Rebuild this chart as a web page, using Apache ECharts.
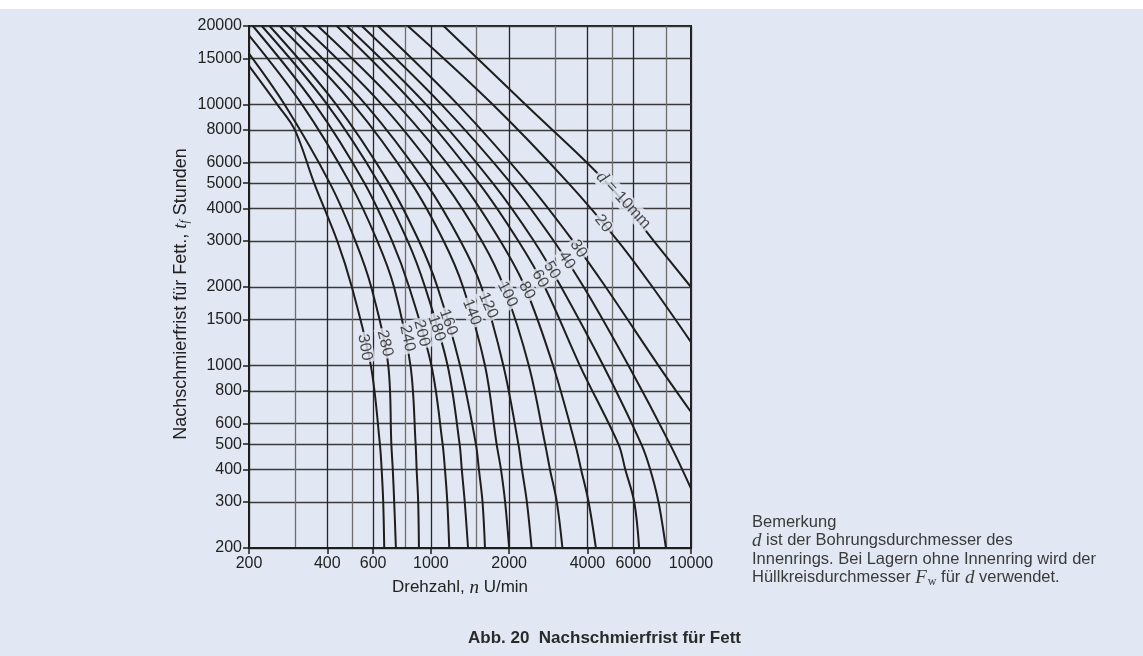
<!DOCTYPE html>
<html>
<head>
<meta charset="utf-8">
<script src="https://cdn.jsdelivr.net/npm/echarts@6/dist/echarts.min.js"></script>
<style>
  html, body { margin: 0; padding: 0; background: #ffffff; }
  #chart { width: 1143px; height: 656px; }
</style>
</head>
<body>
<div id="chart"></div>
<script>
// axis ticks / gridlines
const xGrid = [200, 300, 400, 500, 600, 800, 1000, 1500, 2000, 3000, 4000, 5000, 6000, 8000, 10000]
const xLabels = [200, 400, 600, 1000, 2000, 4000, 6000, 10000]
const yGrid = [200, 300, 400, 500, 600, 800, 1000, 1500, 2000, 3000, 4000, 5000, 6000, 8000, 10000, 15000, 20000]

// curves: [speed n (U/min), grease life t (h)]
const d10 = [[1120, 20000], [2310, 10000], [4760, 5000], [7200, 3000], [10000, 2000]]
const d20 = [[816, 20000], [1730, 10000], [3380, 5000], [5240, 3000], [7110, 2000], [10000, 1230]]
const d30 = [[626, 20000], [1270, 10000], [2360, 5000], [3520, 3000], [4700, 2000], [7500, 1000], [10000, 664]]
const d40 = [[543, 20000], [1100, 10000], [2030, 5000], [2970, 3000], [3870, 2000], [5750, 1000], [8300, 500], [10000, 338]]
const d50 = [[475, 20000], [960, 10000], [1730, 5000], [2490, 3000], [3170, 2000], [4600, 1000], [6440, 500], [6970, 400], [7500, 300], [8010, 200]]
const d60 = [[435, 20000], [865, 10000], [1530, 5000], [2170, 3000], [2740, 2000], [3740, 1000], [5260, 500], [5590, 400], [6050, 300], [6320, 200]]
const d80 = [[368, 20000], [744, 10000], [1320, 5000], [1850, 3000], [2300, 2000], [2950, 1000], [3590, 500], [3780, 400], [4040, 300], [4310, 200]]
const d100 = [[322, 20000], [648, 10000], [1130, 5000], [1570, 3000], [1910, 2000], [2380, 1000], [2750, 500], [2870, 400], [3050, 300], [3205, 200]]
const d120 = [[287, 20000], [562, 10000], [958, 5000], [1300, 3000], [1565, 2000], [1900, 1000], [2170, 500], [2240, 400], [2340, 300], [2440, 200]]
const d140 = [[263, 20000], [504, 10000], [841, 5000], [1120, 3000], [1330, 2000], [1615, 1000], [1790, 500], [1860, 400], [1930, 300], [2000, 200]]
const d160 = [[240, 20000], [433, 10000], [690, 5000], [900, 3000], [1060, 2000], [1295, 1000], [1490, 500], [1530, 400], [1580, 300], [1615, 200]]
const d180 = [[224, 20000], [400, 10000], [631, 5000], [815, 3000], [950, 2000], [1160, 1000], [1290, 500], [1315, 400], [1350, 300], [1390, 200]]
const d200 = [[207, 20000], [359, 10000], [556, 5000], [710, 3000], [825, 2000], [1005, 1000], [1110, 500], [1133, 400], [1157, 300], [1177, 200]]
const d240 = [[200, 18430], [320, 10000], [489, 5000], [623, 3000], [722, 2000], [835, 1000], [874, 500], [882, 400], [894, 300], [900, 200]]
const d280 = [[200, 15680], [274, 10000], [409, 5000], [513, 3000], [590, 2000], [686, 1000], [705, 500], [714, 400], [723, 300], [734, 200]]
const d300 = [[200, 14060], [257, 10000], [300, 8000], [356, 5000], [437, 3000], [497, 2000], [588, 1000], [637, 500], [647, 400], [656, 300], [662, 200]]

const curves = [d10, d20, d30, d40, d50, d60, d80, d100, d120, d140, d160, d180, d200, d240, d280, d300]
const labelText = ['{i|d} = 10mm', '20', '30', '40', '50', '60', '80', '100', '120', '140', '160', '180', '200', '240', '280', '300']
// where each curve label sits, [n, t]
const labelAt = [[5500, 4300], [4600, 3500], [3690, 2800], [3330, 2530], [2920, 2320], [2630, 2150], [2340, 1940], [1970, 1875],
  [1660, 1700], [1436, 1600], [1167, 1465], [1053, 1390], [922, 1330], [813, 1272], [666, 1217], [558, 1175]]
const labelRot = [-47, -52, -57, -57, -58, -60, -62, -63, -66, -68, -70, -72, -76, -78, -76, -80]

const panel = '#e1e7f3'
const ink = '#1e1e1e'
const font = "'Liberation Sans', Arial, sans-serif"
const serif = "'Liberation Serif', 'DejaVu Serif', serif"

const chart = echarts.init(document.getElementById('chart'))

const series = curves.map((pts, i) => ({
  type: 'line',
  xAxisIndex: 1,
  data: pts,
  showSymbol: false,
  smooth: 0.35,
  silent: true,
  lineStyle: { color: ink, width: 2 },
  z: 3,
}))

series.push({
  type: 'scatter',
  xAxisIndex: 1,
  symbolSize: 0,
  silent: true,
  z: 5,
  data: labelAt.map((p, i) => ({
    value: p,
    label: { formatter: labelText[i], rotate: labelRot[i] },
  })),
  label: {
    show: true,
    position: 'inside',
    color: '#222',
    fontFamily: font,
    fontSize: 16,
    backgroundColor: panel,
    padding: [0, 2],
    rich: {
      i: { fontFamily: serif, fontStyle: 'italic', fontSize: 18, color: '#222', backgroundColor: panel },
    },
  },
})

const plain = (v) => String(Math.round(v))

const option = {
  animation: false,
  backgroundColor: '#ffffff',
  graphic: [
    { type: 'rect', z: -10, silent: true, shape: { x: 0, y: 9, width: 1143, height: 647 }, style: { fill: panel } },
    {
      type: 'text', left: 752, top: 513, silent: true,
      style: {
        text: 'Bemerkung\n{i|d} ist der Bohrungsdurchmesser des\nInnenrings. Bei Lagern ohne Innenring wird der\nHüllkreisdurchmesser {i|F}{s|w} für {i|d} verwendet.',
        font: '16.5px ' + font, fill: '#3a3a3a', lineHeight: 18.5,
        rich: {
          i: { fontFamily: serif, fontStyle: 'italic', fontSize: 19, fill: '#3a3a3a', lineHeight: 18.5 },
          s: { fontFamily: serif, fontSize: 12, fill: '#3a3a3a', padding: [8, 0, 0, 1], lineHeight: 18.5 },
        },
      },
    },
    {
      type: 'text', left: 468, top: 630, silent: true,
      style: { text: 'Abb. 20  Nachschmierfrist für Fett', font: 'bold 17px ' + font, fill: '#2a2a2a' },
    },
  ],
  grid: {
    left: 249, top: 26, width: 442, height: 522,
    show: true, borderColor: ink, borderWidth: 2, backgroundColor: 'transparent',
  },
  xAxis: [
    {
      type: 'log', logBase: 10, min: 200, max: 10000, position: 'top',
      axisLine: { show: false },
      axisTick: { show: false, customValues: xGrid },
      axisLabel: { show: false },
      splitLine: { show: true, lineStyle: { color: ['#262626', '#6e6e6e'], width: 1.3 } },
    },
    {
      type: 'log', logBase: 10, min: 200, max: 10000, position: 'bottom',
      name: '{a|Drehzahl, }{i|n}{a| U/min}',
      nameLocation: 'middle', nameGap: 30,
      nameTextStyle: {
        padding: [0, 20, 0, 0],
        rich: {
          a: { fontFamily: font, fontSize: 17, color: '#222' },
          i: { fontFamily: serif, fontStyle: 'italic', fontSize: 19, color: '#222' },
        },
      },
      axisLine: { show: true, lineStyle: { color: ink, width: 2 } },
      axisTick: { show: true, customValues: xLabels, length: 6, lineStyle: { color: ink, width: 1.5 } },
      axisLabel: { customValues: xLabels, formatter: plain, margin: 8, fontSize: 16, fontFamily: font, color: '#222' },
      splitLine: { show: false },
    },
  ],
  yAxis: {
    type: 'log', logBase: 10, min: 200, max: 20000,
    name: '{a|Nachschmierfrist für Fett., }{i|t}{s|f}{a| Stunden}',
    nameLocation: 'middle', nameGap: 58,
    nameTextStyle: {
      padding: [0, 14, 0, 0],
      rich: {
        a: { fontFamily: font, fontSize: 18, color: '#222' },
        i: { fontFamily: serif, fontStyle: 'italic', fontSize: 19, color: '#222' },
        s: { fontFamily: serif, fontStyle: 'italic', fontSize: 12, color: '#222', padding: [8, 0, 0, 0] },
      },
    },
    axisLine: { show: true, lineStyle: { color: ink, width: 2 } },
    axisTick: { show: true, customValues: yGrid, length: 6, lineStyle: { color: ink, width: 1.5 } },
    axisLabel: { customValues: yGrid, formatter: plain, margin: 7, fontSize: 16, fontFamily: font, color: '#222' },
    splitLine: { show: true, lineStyle: { color: '#3a3a3a', width: 1.3 } },
  },
  series: series,
}

chart.setOption(option)
</script>
</body>
</html>
